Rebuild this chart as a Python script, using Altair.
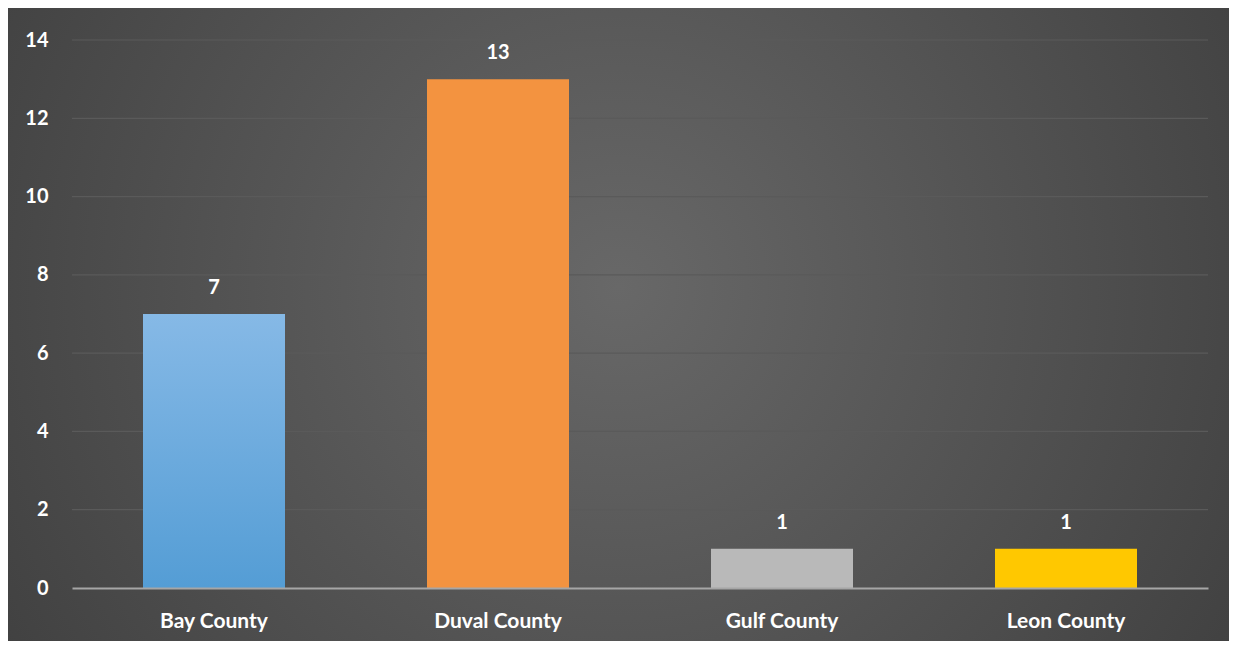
import altair as alt
import pandas as pd

counties = ["Bay County", "Duval County", "Gulf County", "Leon County"]
counts = [7, 13, 1, 1]
bar_colors = ["#5fa3d9", "#f39340", "#b9b9b9", "#ffc800"]
y_ticks = [0, 2, 4, 6, 8, 10, 12, 14]

df = pd.DataFrame({"county": counties, "count": counts})
grid_df = pd.DataFrame({"count": y_ticks[1:]})

W, H = 1136, 548
PL, PT, PR, PB = 64, 32, 21, 53
FONT = "Lato"

bg = alt.Chart(pd.DataFrame({"a": [0]})).mark_rect(
    fill={
        "gradient": "radial",
        "x1": 0.5, "y1": 0.47, "r1": 0,
        "x2": 0.5, "y2": 0.47, "r2": 0.75,
        "stops": [
            {"offset": 0, "color": "#686868"},
            {"offset": 1, "color": "#363636"},
        ],
    },
    stroke=None,
).encode(
    x=alt.value(-PL), x2=alt.value(W + PR),
    y=alt.value(-PT), y2=alt.value(H + PB),
)

yscale = alt.Scale(domain=[0, 14], nice=False)
yaxis = alt.Axis(
    title=None, values=y_ticks, labelColor="white", labelFont=FONT,
    labelFontSize=20, labelFontWeight="bold", labelPadding=24,
    ticks=False, domain=False, grid=False, zindex=1,
)

grid = alt.Chart(grid_df).mark_rule(color="#5a5a5a", strokeWidth=1.2).encode(
    y=alt.Y("count:Q", scale=yscale, axis=yaxis),
    x=alt.value(0), x2=alt.value(W),
)

xenc = alt.X(
    "county:N", sort=counties,
    scale=alt.Scale(paddingInner=0.5, paddingOuter=0.25),
    axis=alt.Axis(
        title=None, labelAngle=0, labelColor="white", labelFont=FONT,
        labelFontSize=21, labelFontWeight="bold", labelPadding=22,
        ticks=False, domain=True, domainColor="#a6a6a6", domainWidth=2,
        grid=False, zindex=1,
    ),
)
yenc = alt.Y("count:Q", scale=yscale, axis=yaxis)

bars = alt.Chart(df).mark_bar().encode(
    x=xenc, y=yenc,
    color=alt.Color("county:N", sort=counties,
                    scale=alt.Scale(domain=counties, range=bar_colors),
                    legend=None),
)

bay = alt.Chart(df).transform_filter(alt.datum.county == "Bay County").mark_bar(
    fill={
        "gradient": "linear", "x1": 0, "y1": 0, "x2": 0, "y2": 1,
        "stops": [
            {"offset": 0, "color": "#86b9e6"},
            {"offset": 1, "color": "#549dd5"},
        ],
    }
).encode(x=alt.X("county:N", sort=counties), y=yenc)

labels = alt.Chart(df).mark_text(
    dy=-26, color="white", font=FONT, fontSize=20, fontWeight="bold",
    baseline="middle",
).encode(x=alt.X("county:N", sort=counties), y=yenc, text="count:Q")

chart = alt.layer(bg, grid, bars, bay, labels).properties(
    width=W, height=H,
    autosize=alt.AutoSizeParams(type="none"),
    padding={"left": PL, "top": PT, "right": PR, "bottom": PB},
    background="#3a3a3a",
).configure_view(stroke=None)

chart.save("out.html", embed_options={"renderer": "svg", "actions": False})
